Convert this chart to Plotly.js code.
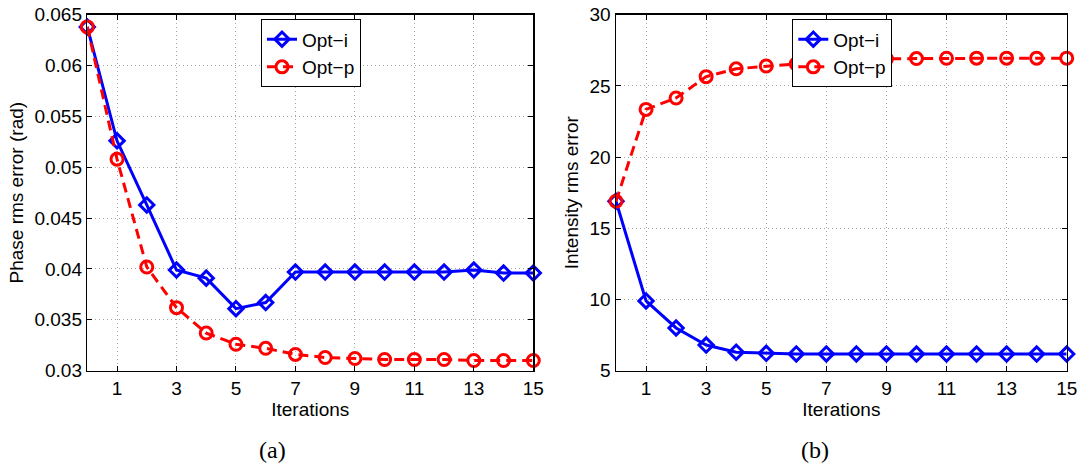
<!DOCTYPE html>
<html>
<head>
<meta charset="utf-8">
<script src="https://cdn.plot.ly/plotly-3.0.1.min.js"></script>
<style>html,body{margin:0;padding:0;background:#fff;}#chart{width:1081px;height:465px;}</style>
</head>
<body>
<div id="chart"></div>
<script>
const iterations = [0,1,2,3,4,5,6,7,8,9,10,11,12,13,14,15];
const phaseOptI = [0.0638,0.0526,0.0463,0.0399,0.0391,0.0361,0.0367,0.0397,0.0397,0.0397,0.0397,0.0397,0.0397,0.0399,0.0396,0.0396];
const phaseOptP = [0.0638,0.0508,0.0402,0.0362,0.0337,0.0326,0.0322,0.0316,0.0313,0.0312,0.0311,0.0311,0.0311,0.0310,0.0310,0.0310];
const intensityOptI = [16.9,9.9,8.0,6.8,6.3,6.22,6.18,6.18,6.18,6.18,6.17,6.17,6.17,6.17,6.17,6.17];
const intensityOptP = [16.9,23.35,24.15,25.65,26.2,26.4,26.55,26.7,26.8,26.9,26.92,26.94,26.95,26.95,26.95,26.95];
const xTicks = [1,3,5,7,9,11,13,15];
const phaseTicks = [0.03,0.035,0.04,0.045,0.05,0.055,0.06,0.065];
const phaseTickText = ['0.03','0.035','0.04','0.045','0.05','0.055','0.06','0.065'];
const intensityTicks = [5,10,15,20,25,30];
const seriesNames = ['Opt\u2212i','Opt\u2212p'];

const FONT = 'Liberation Sans, Arial, Helvetica, sans-serif';
const blue = '#0000ff', red = '#ff0000';

function optI(x, y, xa, ya, leg) {
  return {x, y, xaxis: xa, yaxis: ya, legend: leg, name: seriesNames[0], type: 'scatter', mode: 'lines+markers',
    cliponaxis: false,
    line: {color: blue, width: 3},
    marker: {symbol: 'diamond-open', size: 11, color: blue, line: {color: blue, width: 3}}};
}
function optP(x, y, xa, ya, leg) {
  return {x, y, xaxis: xa, yaxis: ya, legend: leg, name: seriesNames[1], type: 'scatter', mode: 'lines+markers',
    cliponaxis: false,
    line: {color: red, width: 3, dash: '10px,6px'},
    marker: {symbol: 'circle-open', size: 12, color: red, line: {color: red, width: 3}}};
}

const data = [
  optI(iterations, phaseOptI, 'x', 'y', 'legend'),
  optP(iterations, phaseOptP, 'x', 'y', 'legend'),
  optI(iterations, intensityOptI, 'x2', 'y2', 'legend2'),
  optP(iterations, intensityOptP, 'x2', 'y2', 'legend2')
];

const ydom = [(465-370.7)/465, (465-14.7)/465];
function xAxis(dom, anchor) {
  return {domain: dom, anchor: anchor, range: [0,15], tickmode: 'array', tickvals: xTicks,
    showline: true, linecolor: '#000', linewidth: 1.5, mirror: 'ticks', ticks: 'inside', ticklen: 5,
    tickcolor: '#000', tickwidth: 1, showgrid: true, gridcolor: '#a8a8a8', griddash: '1px,3px', gridwidth: 1,
    zeroline: false, automargin: false, tickfont: {family: FONT, size: 19, color: '#000'},
    title: {text: 'Iterations', font: {family: FONT, size: 19, color: '#000'}, standoff: 0}};
}
function yAxis(range, tv, tt, title, anchor, standoff) {
  return {domain: ydom, anchor: anchor, range: range, tickmode: 'array', tickvals: tv, ticktext: tt,
    showline: true, linecolor: '#000', linewidth: 1.5, mirror: 'ticks', ticks: 'inside', ticklen: 5,
    tickcolor: '#000', tickwidth: 1, showgrid: true, gridcolor: '#a8a8a8', griddash: '1px,3px', gridwidth: 1,
    zeroline: false, automargin: false, tickfont: {family: FONT, size: 19, color: '#000'},
    title: {text: title, font: {family: FONT, size: 19, color: '#000'}, standoff: standoff}};
}
const legendStyle = {bgcolor: '#fff', bordercolor: '#000', borderwidth: 1, font: {family: FONT, size: 19, color: '#000'},
  xanchor: 'left', yanchor: 'top', tracegroupgap: 0, itemwidth: 30};

const layout = {
  width: 1081, height: 465, margin: {l: 0, r: 0, t: 0, b: 0},
  paper_bgcolor: '#fff', plot_bgcolor: '#fff', showlegend: true,
  xaxis: xAxis([87.3/1081, 533.3/1081], 'y'),
  yaxis: yAxis([0.03, 0.065], phaseTicks, phaseTickText, 'Phase rms error (rad)', 'x', 6),
  xaxis2: xAxis([616/1081, 1066.7/1081], 'y2'),
  yaxis2: yAxis([5, 30], intensityTicks, intensityTicks.map(String), 'Intensity rms error', 'x2', 6),
  legend: Object.assign({x: 261/1081, y: (465-19.3)/465}, legendStyle),
  legend2: Object.assign({x: 792.3/1081, y: (465-19.3)/465}, legendStyle),
  annotations: [
    {text: '(a)', xref: 'paper', yref: 'paper', x: 272/1081, y: (465-450)/465, xanchor: 'center', yanchor: 'middle',
     showarrow: false, font: {family: 'Liberation Serif, DejaVu Serif, serif', size: 24, color: '#000'}},
    {text: '(b)', xref: 'paper', yref: 'paper', x: 815/1081, y: (465-450)/465, xanchor: 'center', yanchor: 'middle',
     showarrow: false, font: {family: 'Liberation Serif, DejaVu Serif, serif', size: 24, color: '#000'}}
  ]
};

Plotly.newPlot('chart', data, layout, {displayModeBar: false, staticPlot: true});
</script>
</body>
</html>
